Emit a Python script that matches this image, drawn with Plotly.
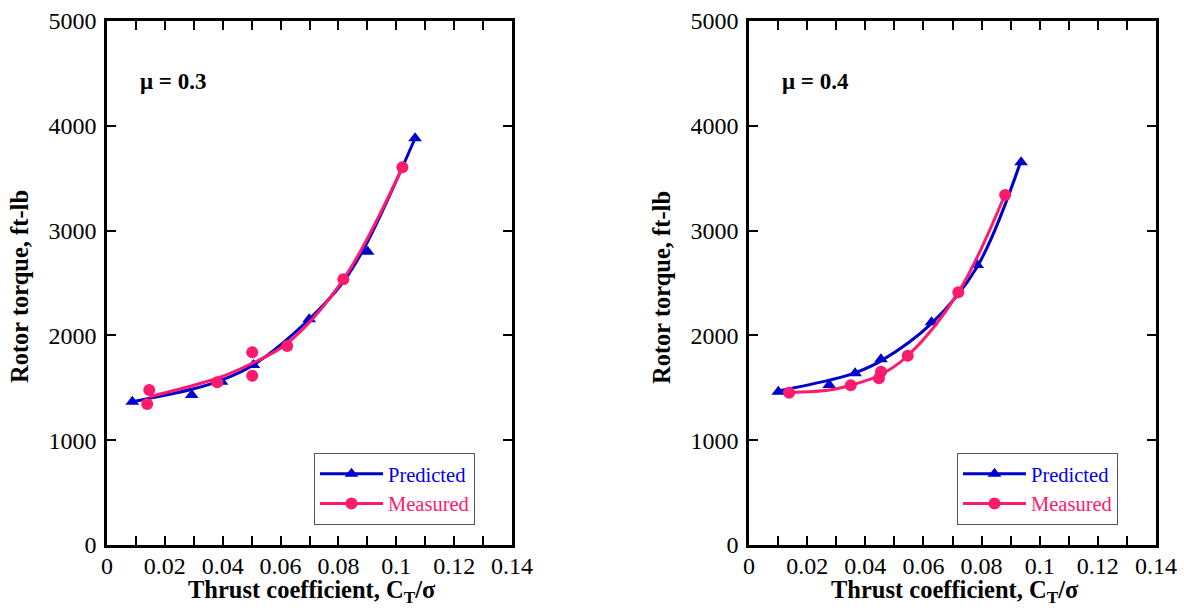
import plotly.graph_objects as go

BLUE = "#0000CC"
BLUE_TEXT = "#0000EE"
PINK = "#FF1A6E"
FONT = "Liberation Serif"

# ---- mu = 0.3 (left panel) ----
mu3_pred_x = [0.00875, 0.0293, 0.0396, 0.0506, 0.0699, 0.0901, 0.1065]
mu3_pred_y = [1367, 1431, 1558, 1718, 2154, 2799, 3881]
mu3_meas_x = [0.0139, 0.0146, 0.0381, 0.0502, 0.0502, 0.0623, 0.0817, 0.1021]
mu3_meas_y = [1345, 1479, 1552, 1839, 1615, 1899, 2535, 3604]
mu3_pred_curve_x = [0.00875, 0.0293, 0.0396, 0.0506, 0.0699, 0.0817, 0.0898, 0.1065]
mu3_pred_curve_y = [1367, 1486, 1574, 1718, 2154, 2512, 2879, 3881]
mu3_meas_curve_x = [0.0146, 0.0381, 0.0502, 0.0623, 0.0817, 0.1021]
mu3_meas_curve_y = [1415, 1591, 1734, 1925, 2535, 3604]

# ---- mu = 0.4 (right panel) ----
mu4_pred_x = [0.0101, 0.0276, 0.0365, 0.0454, 0.0628, 0.0785, 0.0936]
mu4_pred_y = [1463, 1527, 1638, 1772, 2125, 2672, 3652]
mu4_meas_x = [0.0138, 0.0350, 0.0447, 0.0454, 0.0546, 0.0720, 0.0881]
mu4_meas_y = [1453, 1524, 1591, 1654, 1806, 2411, 3340]
mu4_pred_curve_x = [0.0090, 0.0277, 0.0365, 0.0454, 0.0628, 0.0785, 0.0936]
mu4_pred_curve_y = [1463, 1573, 1643, 1757, 2115, 2656, 3669]
mu4_meas_curve_x = [0.0138, 0.0277, 0.0350, 0.0451, 0.0546, 0.0720, 0.0880]
mu4_meas_curve_y = [1454, 1479, 1524, 1622, 1806, 2411, 3340]

x_tickvals = [0, 0.01, 0.02, 0.03, 0.04, 0.05, 0.06, 0.07, 0.08, 0.09, 0.10, 0.11, 0.12, 0.13, 0.14]
x_ticktext = ["0", "", "0.02", "", "0.04", "", "0.06", "", "0.08", "", "0.1", "", "0.12", "", "0.14"]
y_tickvals = [0, 1000, 2000, 3000, 4000, 5000]
y_ticktext = ["0", "1000", "2000", "3000", "4000", "5000"]

x_title = "Thrust coefficient, C<sub>T</sub>/σ"
y_title = "Rotor torque, ft-lb"
panel_labels = ["μ = 0.3", "μ = 0.4"]
legend_names = ["Predicted", "Measured"]

fig = go.Figure()

panels = [
    ("x", "y", "legend", mu3_pred_curve_x, mu3_pred_curve_y, mu3_meas_curve_x, mu3_meas_curve_y,
     mu3_pred_x, mu3_pred_y, mu3_meas_x, mu3_meas_y),
    ("x2", "y2", "legend2", mu4_pred_curve_x, mu4_pred_curve_y, mu4_meas_curve_x, mu4_meas_curve_y,
     mu4_pred_x, mu4_pred_y, mu4_meas_x, mu4_meas_y),
]

for (xa, ya, lg, pcx, pcy, mcx, mcy, px, py, mx, my) in panels:
    fig.add_trace(go.Scatter(x=pcx, y=pcy, mode="lines", xaxis=xa, yaxis=ya,
                             line=dict(color=BLUE, width=3, shape="spline", smoothing=1.0),
                             showlegend=False, hoverinfo="skip"))
    fig.add_trace(go.Scatter(x=px, y=py, mode="markers", xaxis=xa, yaxis=ya,
                             marker=dict(symbol="triangle-up", size=12, color=BLUE),
                             showlegend=False))
    fig.add_trace(go.Scatter(x=mcx, y=mcy, mode="lines", xaxis=xa, yaxis=ya,
                             line=dict(color=PINK, width=3, shape="spline", smoothing=1.0),
                             showlegend=False, hoverinfo="skip"))
    fig.add_trace(go.Scatter(x=mx, y=my, mode="markers", xaxis=xa, yaxis=ya,
                             marker=dict(symbol="circle", size=12, color=PINK),
                             showlegend=False))
    # legend entries
    fig.add_trace(go.Scatter(x=[None], y=[None], mode="lines+markers", xaxis=xa, yaxis=ya,
                             name=f"<span style='color:{BLUE_TEXT}'>{legend_names[0]}</span>", legend=lg,
                             line=dict(color=BLUE, width=3),
                             marker=dict(symbol="triangle-up", size=12, color=BLUE)))
    fig.add_trace(go.Scatter(x=[None], y=[None], mode="lines+markers", xaxis=xa, yaxis=ya,
                             name=f"<span style='color:{PINK}'>{legend_names[1]}</span>", legend=lg,
                             line=dict(color=PINK, width=3),
                             marker=dict(symbol="circle", size=12, color=PINK)))

W, H = 1184, 615
left_dom = [107 / W, 512 / W]
right_dom = [749 / W, 1156 / W]
y_dom = [1 - 545 / H, 1 - 21 / H]

def xaxis(dom, anchor):
    return dict(domain=dom, anchor=anchor, range=[0, 0.14], tickmode="array", automargin=False,
                tickvals=x_tickvals, ticktext=x_ticktext, ticks="inside", ticklen=9, tickwidth=2,
                tickcolor="black", showline=True, linecolor="black", linewidth=2.5, mirror="ticks",
                showgrid=False, zeroline=False, ticklabelstandoff=-3,
                tickfont=dict(family=FONT, size=24, color="black"))

def yaxis(dom, anchor):
    return dict(domain=dom, anchor=anchor, range=[0, 5000], tickmode="array", automargin=False,
                tickvals=y_tickvals, ticktext=y_ticktext, ticks="inside", ticklen=9, tickwidth=2,
                tickcolor="black", showline=True, linecolor="black", linewidth=2.5, mirror="ticks",
                showgrid=False, zeroline=False, ticklabelstandoff=3,
                tickfont=dict(family=FONT, size=24, color="black"))

legend_common = dict(bgcolor="white", bordercolor="#555555", borderwidth=1,
                     font=dict(family=FONT, size=20.5), yanchor="top", xanchor="left",
                     xref="paper", yref="paper", itemwidth=63, tracegroupgap=0)

title_font = dict(family=FONT, size=24.5, color="black", weight="bold")
annotations = []
for i, (xc, ytc, lx) in enumerate([(312, 19, 138), (955, 661, 780)]):
    annotations.append(dict(text=x_title, xref="paper", yref="paper", x=xc / W, y=1 - 591 / H,
                            xanchor="center", yanchor="middle", showarrow=False, font=title_font))
    annotations.append(dict(text=y_title, xref="paper", yref="paper", x=ytc / W, y=1 - 287 / H,
                            xanchor="center", yanchor="middle", showarrow=False, textangle=-90,
                            font=title_font))
    annotations.append(dict(text=panel_labels[i], xref="paper", yref="paper", x=lx / W, y=1 - 82 / H,
                            xanchor="left", yanchor="middle", showarrow=False,
                            font=dict(family=FONT, size=23, color="black", weight="bold")))

fig.update_layout(
    width=W, height=H,
    margin=dict(l=0, r=0, t=0, b=0, autoexpand=False),
    paper_bgcolor="white", plot_bgcolor="white",
    xaxis=xaxis(left_dom, "y"),
    yaxis=yaxis(y_dom, "x"),
    xaxis2=xaxis(right_dom, "y2"),
    yaxis2=yaxis(y_dom, "x2"),
    legend=dict(x=314 / W, y=1 - 453 / H, **legend_common),
    legend2=dict(x=957 / W, y=1 - 453 / H, **legend_common),
    annotations=annotations,
    showlegend=True,
)

fig.write_html("out.html", config={"displayModeBar": False},
               post_script="document.body.style.margin='0';")
